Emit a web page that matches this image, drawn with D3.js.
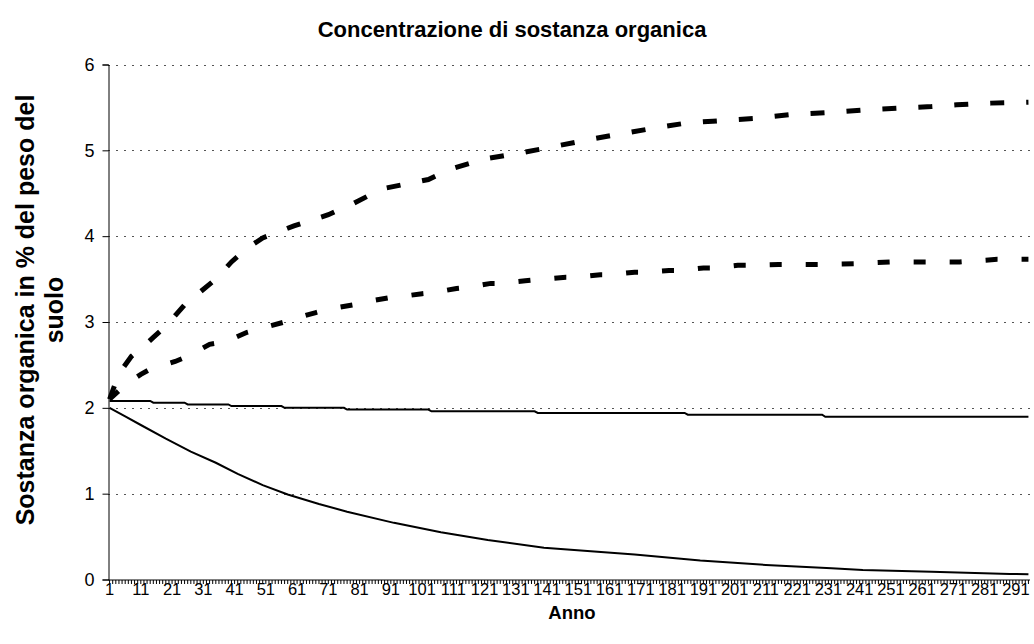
<!DOCTYPE html>
<html><head><meta charset="utf-8">
<script src="https://cdn.jsdelivr.net/npm/d3@7/dist/d3.min.js"></script>
<style>body{margin:0;background:#fff}svg{display:block}text{font-family:"Liberation Sans",Arial,sans-serif}</style>
</head><body><svg id="c" width="1034" height="644"></svg>
<script>
// categories: years 1..295
const categories = d3.range(1, 296);
const xTickLabels = [1,11,21,31,41,51,61,71,81,91,101,111,121,131,141,151,161,171,181,191,201,211,221,231,241,251,261,271,281,291];
const yTicks = [0,1,2,3,4,5,6];

// upper dashed series
const yearsA = [1,3,5,8,12,15,19,25,30,35,40,45,50,60,71,79,88,103,110,121,134,144,155,166,177,186,194,207,220,231,247,258,264,272,283,295];
const valuesA = [2.1,2.3,2.45,2.6,2.72,2.82,2.95,3.2,3.35,3.5,3.7,3.86,3.98,4.12,4.25,4.38,4.55,4.66,4.78,4.9,4.98,5.05,5.13,5.2,5.27,5.32,5.34,5.37,5.42,5.44,5.48,5.5,5.51,5.53,5.55,5.56];
// lower dashed series
const yearsB = [1,4,8,11,14,22,26,33,38,45,49,57,60,67,71,79,82,90,93,101,104,112,115,123,126,134,137,147,150,158,161,169,172,180,183,191,194,202,205,215,228,240,251,262,273,285,295];
const valuesB = [2.1,2.2,2.32,2.39,2.45,2.54,2.6,2.74,2.77,2.88,2.92,3.0,3.04,3.11,3.15,3.2,3.23,3.28,3.29,3.33,3.34,3.39,3.4,3.45,3.45,3.48,3.49,3.52,3.52,3.55,3.55,3.58,3.58,3.6,3.6,3.63,3.63,3.66,3.66,3.67,3.67,3.68,3.7,3.7,3.7,3.73,3.73];
// upper solid series
const yearsC = [1,14,15,25,26,39,40,56,57,76,77,103,104,137,138,185,186,229,230,295];
const valuesC = [2.08,2.08,2.06,2.06,2.04,2.04,2.02,2.02,2.0,2.0,1.98,1.98,1.96,1.96,1.94,1.94,1.92,1.92,1.895,1.895];
// lower solid series
const yearsD = [1,6,11,19,27,35,42,50,58,68,77,92,107,122,140,155,169,190,211,232,242,264,289,295];
const valuesD = [2.0,1.9,1.8,1.64,1.49,1.36,1.23,1.1,0.99,0.88,0.79,0.66,0.55,0.46,0.37,0.33,0.29,0.22,0.17,0.13,0.11,0.09,0.065,0.06];

const svg = d3.select('#c');
const L = 108, R = 1030, T = 64.5, B = 579.5;
const x = d3.scaleBand().domain(categories).range([L, R]);
const y = d3.scaleLinear().domain([0, 6]).range([B, T]);
const cx = d => x(d) + x.bandwidth() / 2;

// gridlines
svg.append('g').selectAll('line').data(yTicks.filter(d => d > 0)).join('line')
  .attr('x1', L).attr('x2', R).attr('y1', d => Math.round(y(d)) + 0.5).attr('y2', d => Math.round(y(d)) + 0.5)
  .attr('stroke', '#555').attr('stroke-width', 1).attr('stroke-dasharray', '2,6');

// y axis
const yAxis = d3.axisLeft(y).tickValues(yTicks).tickSize(6).tickPadding(8).tickFormat(d3.format('d'));
const gy = svg.append('g').attr('transform', `translate(${L + 0.5},0)`).call(yAxis);
gy.select('.domain').attr('stroke', '#000');
gy.selectAll('text').style('font-size', '18px').attr('fill', '#000');

// x axis with a tick per category
const xAxis = d3.axisBottom(x).tickValues(categories).tickSize(4).tickFormat(d => xTickLabels.includes(d) ? d : '');
const gx = svg.append('g').attr('transform', `translate(0,${B + 0.5})`).call(xAxis);
gx.select('.domain').attr('d', `M${L},0H${R}`).attr('stroke', '#000');
gx.selectAll('.tick line').attr('stroke', '#000');
gx.selectAll('text').style('font-size', '16.5px').attr('fill', '#000').attr('dy', null).attr('y', 15);

const line = d3.line().x(d => cx(d[0])).y(d => y(d[1]));
const series = [
  {ys: yearsD, vs: valuesD, w: 2, dash: null},
  {ys: yearsC, vs: valuesC, w: 2, dash: null},
  {ys: yearsB, vs: valuesB, w: 5, dash: '12,24'},
  {ys: yearsA, vs: valuesA, w: 5, dash: '14,22'}
];
series.forEach(s => {
  svg.append('path').datum(s.ys.map((yy, i) => [yy, s.vs[i]]))
    .attr('d', line).attr('fill', 'none').attr('stroke', '#000')
    .attr('stroke-width', s.w).attr('stroke-dasharray', s.dash);
});

// titles
svg.append('text').attr('x', 512).attr('y', 37).attr('text-anchor', 'middle')
  .attr('font-weight', 'bold').style('font-size', '22px').text('Concentrazione di sostanza organica');
svg.append('text').attr('x', 572).attr('y', 619).attr('text-anchor', 'middle')
  .attr('font-weight', 'bold').style('font-size', '18.5px').text('Anno');
const yt = svg.append('text').attr('transform', 'translate(34,310) rotate(-90)')
  .attr('text-anchor', 'middle').attr('font-weight', 'bold').style('font-size', '25px');
yt.append('tspan').attr('x', 0).attr('y', 0).text('Sostanza organica in % del peso del');
yt.append('tspan').attr('x', 0).attr('y', 29).text('suolo');
</script></body></html>
